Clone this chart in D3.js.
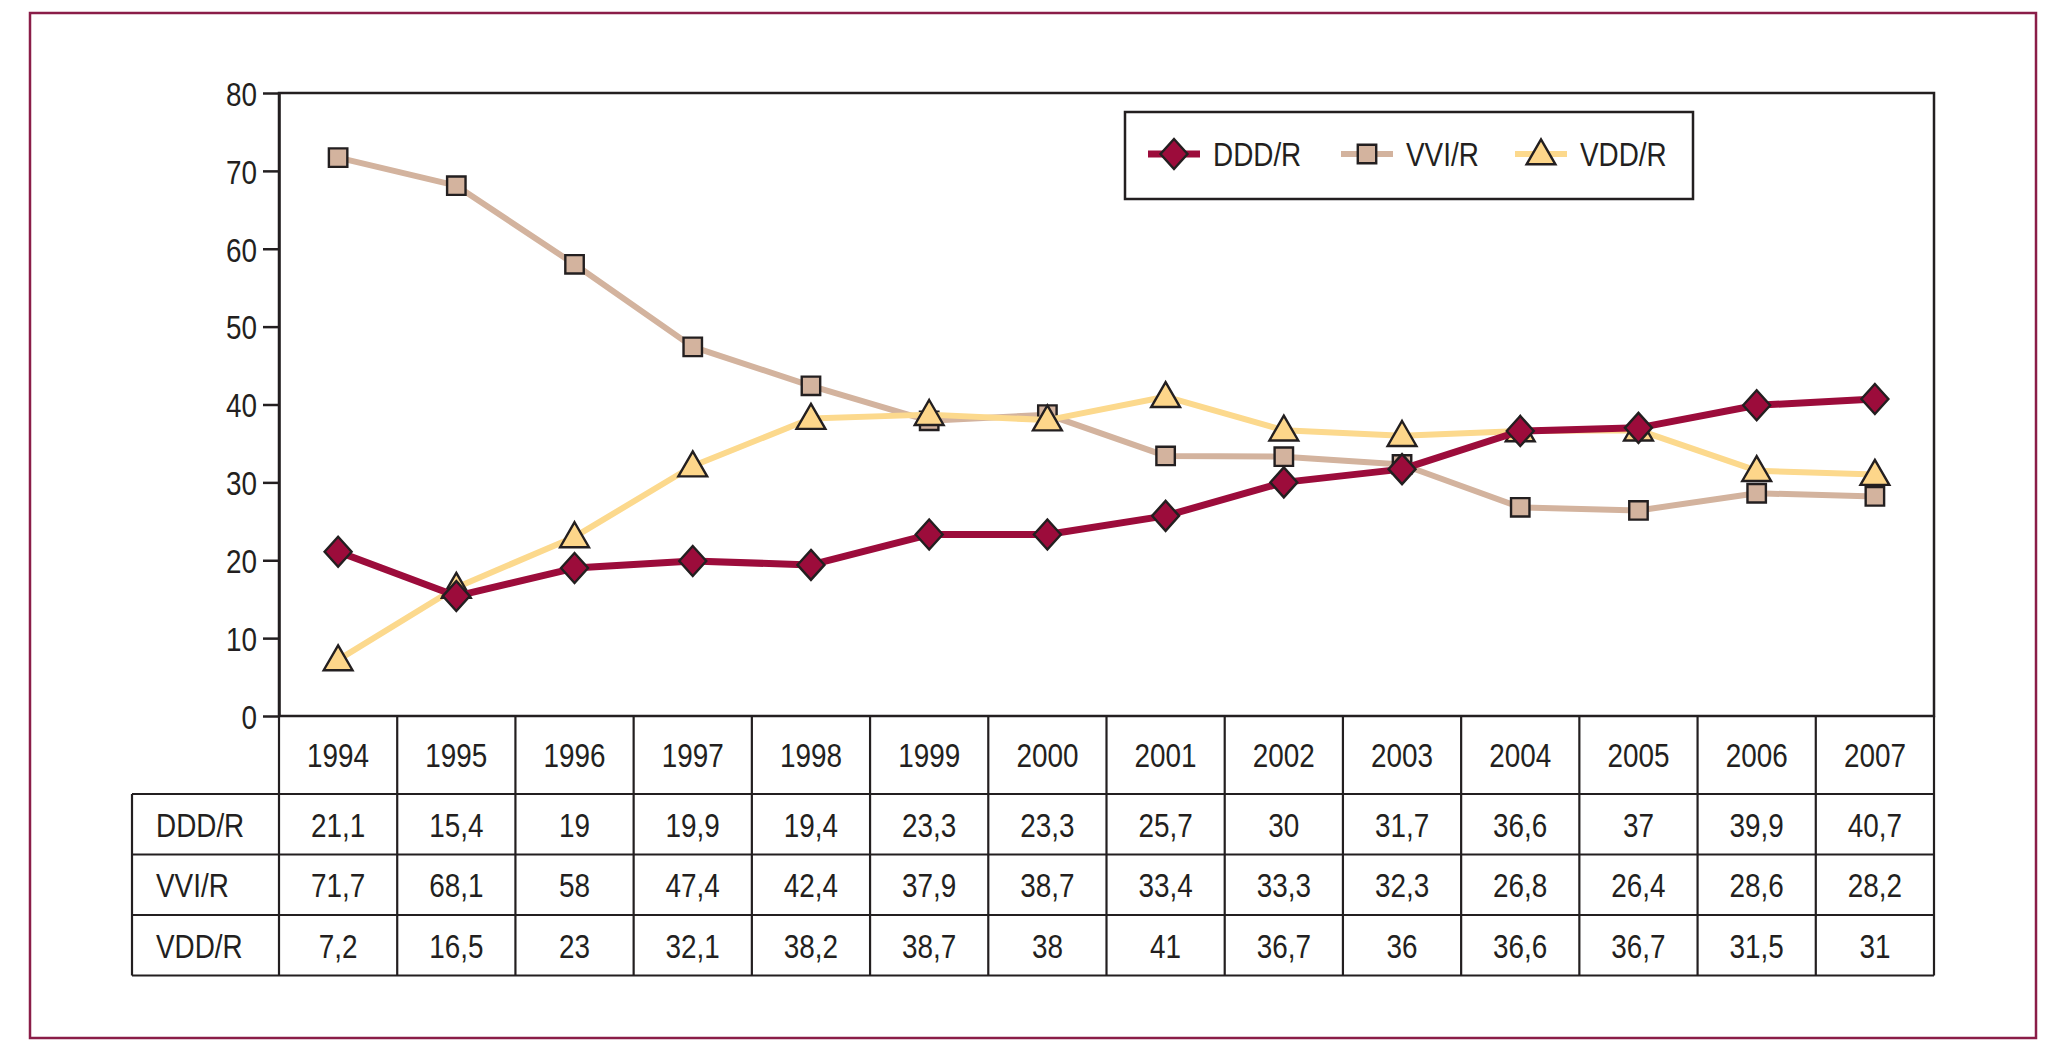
<!DOCTYPE html>
<html>
<head>
<meta charset="utf-8">
<script src="https://cdn.jsdelivr.net/npm/d3@7"></script>
<style>
  body { margin: 0; background: #fff; }
  text { font-family: "Liberation Sans", Arial, sans-serif; fill: #231f20; }
</style>
</head>
<body>
<div id="chart"></div>
<script>
var years = ["1994","1995","1996","1997","1998","1999","2000","2001","2002","2003","2004","2005","2006","2007"];
var dddR = [21.1, 15.4, 19, 19.9, 19.4, 23.3, 23.3, 25.7, 30, 31.7, 36.6, 37, 39.9, 40.7];
var vviR = [71.7, 68.1, 58, 47.4, 42.4, 37.9, 38.7, 33.4, 33.3, 32.3, 26.8, 26.4, 28.6, 28.2];
var vddR = [7.2, 16.5, 23, 32.1, 38.2, 38.7, 38, 41, 36.7, 36, 36.6, 36.7, 31.5, 31];
var yTicks = [0, 10, 20, 30, 40, 50, 60, 70, 80];

var series = [
  { name: "VVI/R", values: vviR, color: "#d3b39e", fill: "#d3b39e", symbol: d3.symbolSquare, size: 340, width: 6 },
  { name: "VDD/R", values: vddR, color: "#fcd98d", fill: "#fdd68a", symbol: d3.symbolTriangle, size: 360, width: 6 },
  { name: "DDD/R", values: dddR, color: "#9c0c3b", fill: "#9c0c3b", symbol: "diamond", size: 0, width: 7 }
];
var legendOrder = ["DDD/R", "VVI/R", "VDD/R"];

var width = 2066, height = 1050;
var plotLeft = 279, plotRight = 1934, plotTop = 93, plotBottom = 716;
var tableLeft = 132, headerBottom = 794, rowH = 60.5;
var fs = 34, squeeze = 0.82;

var svg = d3.select("#chart").append("svg")
  .attr("width", width)
  .attr("height", height);

// condensed text: scale horizontally around its own anchor point
function label(parent, px, py, str, anchor) {
  return parent.append("g")
    .attr("transform", "translate(" + px + "," + py + ") scale(" + squeeze + ",1)")
    .append("text")
    .attr("dy", "0.36em")
    .attr("text-anchor", anchor || "start")
    .attr("font-size", fs)
    .text(str);
}

// outer frame
svg.append("rect")
  .attr("x", 30).attr("y", 13)
  .attr("width", 2006).attr("height", 1025)
  .attr("fill", "none")
  .attr("stroke", "#8a1d48")
  .attr("stroke-width", 2.5);

var x = d3.scaleBand().domain(years).range([plotLeft, plotRight]);
var y = d3.scaleLinear().domain([0, 80]).range([plotBottom, plotTop]);

// plot box
svg.append("rect")
  .attr("x", plotLeft).attr("y", plotTop)
  .attr("width", plotRight - plotLeft).attr("height", plotBottom - plotTop)
  .attr("fill", "none").attr("stroke", "#231f20").attr("stroke-width", 2.5);

// y axis
var yAxis = svg.append("g")
  .attr("transform", "translate(" + plotLeft + ",0)")
  .call(d3.axisLeft(y).tickValues(yTicks).tickSize(16).tickSizeOuter(0));
yAxis.select(".domain").attr("stroke", "#231f20").attr("stroke-width", 2.5);
yAxis.selectAll(".tick line").attr("stroke", "#231f20").attr("stroke-width", 2.5);
yAxis.selectAll(".tick text")
  .style("font-family", "\"Liberation Sans\", Arial, sans-serif")
  .attr("font-size", fs).attr("fill", "#231f20")
  .attr("x", -22 / squeeze)
  .attr("dy", "0.36em")
  .attr("transform", "scale(" + squeeze + ",1)");

function diamondPath(cx, cy) {
  return "M" + cx + "," + (cy - 15) + "L" + (cx + 13.5) + "," + cy + "L" + cx + "," + (cy + 15) + "L" + (cx - 13.5) + "," + cy + "Z";
}

function drawMarker(g, s, cx, cy) {
  if (s.symbol === "diamond") {
    g.append("path").attr("d", diamondPath(cx, cy));
  } else {
    g.append("path")
      .attr("d", d3.symbol().type(s.symbol).size(s.size)())
      .attr("transform", "translate(" + cx + "," + (cy + (s.symbol === d3.symbolTriangle ? 2 : 0)) + ")");
  }
}

var line = d3.line()
  .x(function(d, i) { return x(years[i]) + x.bandwidth() / 2; })
  .y(function(d) { return y(d); });

series.forEach(function(s) {
  var g = svg.append("g");
  g.append("path")
    .attr("d", line(s.values))
    .attr("fill", "none")
    .attr("stroke", s.color)
    .attr("stroke-width", s.width)
    .attr("stroke-linejoin", "round");
  var mg = g.append("g")
    .attr("fill", s.fill)
    .attr("stroke", "#231f20")
    .attr("stroke-width", 2.4);
  s.values.forEach(function(v, i) {
    drawMarker(mg, s, x(years[i]) + x.bandwidth() / 2, y(v));
  });
});

// legend
var legend = svg.append("g");
legend.append("rect")
  .attr("x", 1125).attr("y", 112)
  .attr("width", 568).attr("height", 87)
  .attr("fill", "#fff").attr("stroke", "#231f20").attr("stroke-width", 2.5);
var legendX = [1148, 1341, 1515];
legendOrder.forEach(function(name, k) {
  var s = series.filter(function(d) { return d.name === name; })[0];
  var lx = legendX[k], ly = 154;
  legend.append("line")
    .attr("x1", lx).attr("x2", lx + 52)
    .attr("y1", ly).attr("y2", ly)
    .attr("stroke", s.color).attr("stroke-width", s.width);
  var mg = legend.append("g").attr("fill", s.fill).attr("stroke", "#231f20").attr("stroke-width", 2.4);
  drawMarker(mg, s, lx + 26, ly);
  label(legend, lx + 65, ly, name);
});

// data table
var table = svg.append("g");
var rows = [
  { name: "DDD/R", values: dddR },
  { name: "VVI/R", values: vviR },
  { name: "VDD/R", values: vddR }
];
var tableBottom = headerBottom + rowH * rows.length;
var lineStyle = function(sel) { return sel.attr("stroke", "#231f20").attr("stroke-width", 2.2); };

// vertical lines
years.forEach(function(yr) {
  table.append("line")
    .attr("x1", x(yr)).attr("x2", x(yr))
    .attr("y1", plotBottom).attr("y2", tableBottom)
    .call(lineStyle);
});
table.append("line")
  .attr("x1", plotRight).attr("x2", plotRight)
  .attr("y1", plotBottom).attr("y2", tableBottom)
  .call(lineStyle);
table.append("line")
  .attr("x1", tableLeft).attr("x2", tableLeft)
  .attr("y1", headerBottom).attr("y2", tableBottom)
  .call(lineStyle);
// horizontal lines
d3.range(rows.length + 1).forEach(function(r) {
  table.append("line")
    .attr("x1", tableLeft).attr("x2", plotRight)
    .attr("y1", headerBottom + r * rowH).attr("y2", headerBottom + r * rowH)
    .call(lineStyle);
});

// header years
years.forEach(function(yr) {
  label(table, x(yr) + x.bandwidth() / 2, (plotBottom + headerBottom) / 2, yr, "middle");
});

rows.forEach(function(row, r) {
  var cy = headerBottom + r * rowH + rowH / 2;
  label(table, 156, cy, row.name);
  row.values.forEach(function(v, i) {
    label(table, x(years[i]) + x.bandwidth() / 2, cy, String(v).replace(".", ","), "middle");
  });
});
</script>
</body>
</html>
